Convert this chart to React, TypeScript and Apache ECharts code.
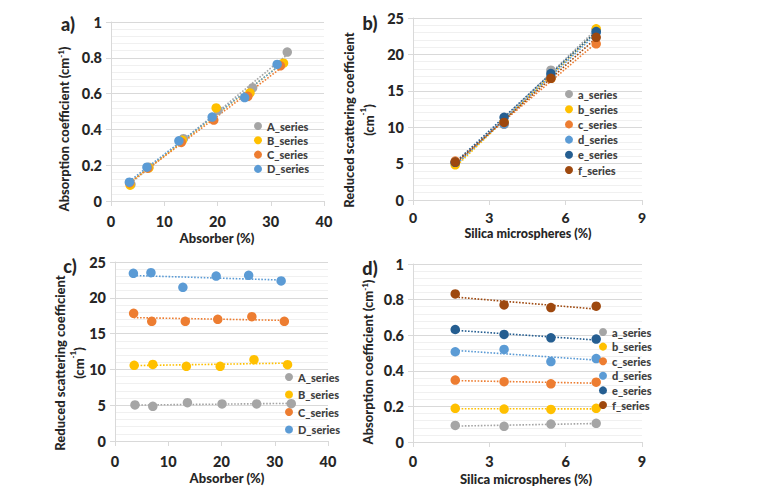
import React, { useEffect, useRef } from "react";
import * as echarts from "echarts";

// ---- data ----
const silicaX = [1.66, 3.58, 5.42, 7.2];

const absorberX_A = [3.75, 7.1, 13.6, 20.1, 26.6, 33.1];
const absorberX_B = [3.6, 7.1, 13.4, 19.75, 26.1, 32.4];
const absorberX_C = [3.5, 6.9, 13.2, 19.3, 25.7, 31.8];
const absorberX_D = [3.45, 6.75, 12.75, 19.0, 25.1, 31.2];

// absorption coefficient per absorber level (a..f), columns = silica levels (A..D)
const mua_a = [0.093, 0.088, 0.101, 0.105];
const mua_b = [0.189, 0.185, 0.183, 0.189];
const mua_c = [0.348, 0.339, 0.327, 0.336];
const mua_d = [0.507, 0.52, 0.452, 0.469];
const mua_e = [0.632, 0.604, 0.585, 0.578];
const mua_f = [0.832, 0.77, 0.755, 0.763];

// reduced scattering coefficient per absorber level (a..f), columns = silica levels (A..D)
const musp_a = [5.03, 10.57, 17.83, 23.42];
const musp_b = [4.84, 10.7, 16.71, 23.51];
const musp_c = [5.35, 10.43, 16.71, 21.46];
const musp_d = [5.17, 10.43, 16.99, 23.04];
const musp_e = [5.17, 11.36, 17.36, 23.14];
const musp_f = [5.21, 10.66, 16.71, 22.35];

const upperNames = ["A_series", "B_series", "C_series", "D_series"];
const lowerNames = ["a_series", "b_series", "c_series", "d_series", "e_series", "f_series"];

const absTicks = { min: 0, max: 40, interval: 10 };
const silTicks = { min: 0, max: 9, interval: 3 };
const muaTicks = { min: 0, max: 1, interval: 0.2 };
const muspTicks = { min: 0, max: 25, interval: 5 };

const upperColors = ["#A5A5A5", "#FFC000", "#ED7D31", "#5B9BD5"];
const lowerColors = ["#A5A5A5", "#FFC000", "#ED7D31", "#5B9BD5", "#255E91", "#9E480E"];

const FONT = "Lato, 'Open Sans', sans-serif";
const W = 900;

function fit(xs: number[], ys: number[]) {
  const n = xs.length;
  const mx = xs.reduce((s, v) => s + v, 0) / n;
  const my = ys.reduce((s, v) => s + v, 0) / n;
  let sxy = 0, sxx = 0;
  for (let i = 0; i < n; i++) {
    sxy += (xs[i] - mx) * (ys[i] - my);
    sxx += (xs[i] - mx) * (xs[i] - mx);
  }
  const b = sxy / sxx;
  const a = my - b * mx;
  const x0 = Math.min(...xs), x1 = Math.max(...xs);
  return [[x0, a + b * x0], [x1, a + b * x1]];
}

export default function App() {
  const ref = useRef<HTMLDivElement>(null);
  useEffect(() => {
    document.body.style.margin = "0";
    const chart = echarts.init(ref.current!, null, { renderer: "svg" });

    const absX = [absorberX_A, absorberX_B, absorberX_C, absorberX_D];
    const muaLv = [mua_a, mua_b, mua_c, mua_d, mua_e, mua_f];
    const muspLv = [musp_a, musp_b, musp_c, musp_d, musp_e, musp_f];

    const grids = [
      { left: 111, top: 22, width: 213, height: 179 },
      { left: 413, top: 18, width: 229, height: 182 },
      { left: 115, top: 262, width: 213, height: 179 },
      { left: 413, top: 264, width: 229, height: 178 },
    ].map((g) => ({ ...g, outerBoundsMode: "none", containLabel: false }));

    const labelStyle = { fontSize: 14.5, fontWeight: W, color: "#262626", fontFamily: FONT };
    const lineCol = "#d9d9d9";

    const mkX = (gi: number, t: any, margin: number, fs = 14.5) => ({
      type: "value",
      gridIndex: gi,
      ...t,
      axisLine: { show: true, onZero: false, lineStyle: { color: lineCol } },
      axisTick: { show: true, length: 5, lineStyle: { color: lineCol } },
      axisLabel: { ...labelStyle, fontSize: fs, margin },
      splitLine: { show: false },
    });
    const mkY = (gi: number, t: any) => ({
      type: "value",
      gridIndex: gi,
      ...t,
      axisLine: { show: true, onZero: false, lineStyle: { color: lineCol } },
      axisTick: { show: true, length: 5, lineStyle: { color: lineCol } },
      axisLabel: { ...labelStyle, margin: 9 },
      splitLine: { show: true, lineStyle: { color: lineCol, width: 1 } },
      minorTick: { show: false, splitNumber: 5 },
      minorSplitLine: { show: true, lineStyle: { color: "#f0f0f0", width: 1 } },
    });

    const series: any[] = [];
    const addPanel = (gi: number, names: string[], colors: string[], pts: number[][][]) => {
      pts.forEach((p, k) => {
        series.push({
          type: "line",
          name: "trend_" + gi + "_" + k,
          xAxisIndex: gi,
          yAxisIndex: gi,
          data: fit(p.map((d) => d[0]), p.map((d) => d[1])),
          showSymbol: false,
          symbol: "none",
          silent: true,
          z: 1,
          lineStyle: { color: colors[k], width: 1.6, type: [1.6, 1.6] },
        });
      });
      pts.forEach((p, k) => {
        series.push({
          type: "scatter",
          name: names[k],
          xAxisIndex: gi,
          yAxisIndex: gi,
          data: p,
          symbol: "circle",
          symbolSize: 9.5,
          z: 3,
          itemStyle: { color: colors[k], opacity: 1 },
        });
      });
    };

    // panel a: absorption vs absorber, series by silica level A..D
    addPanel(0, upperNames, upperColors,
      upperNames.map((_, j) => muaLv.map((row, i) => [absX[j][i], row[j]])));
    // panel b: scattering vs silica, series by absorber level a..f
    addPanel(1, lowerNames, lowerColors,
      lowerNames.map((_, i) => silicaX.map((x, j) => [x, muspLv[i][j]])));
    // panel c: scattering vs absorber
    addPanel(2, upperNames, upperColors,
      upperNames.map((_, j) => muspLv.map((row, i) => [absX[j][i], row[j]])));
    // panel d: absorption vs silica
    addPanel(3, lowerNames, lowerColors,
      lowerNames.map((_, i) => silicaX.map((x, j) => [x, muaLv[i][j]])));

    const legendText = { fontSize: 11, fontWeight: W, color: "#404040", fontFamily: FONT, lineHeight: 12 };
    const mkLegend = (data: string[], left: number, top: number, gap: number) => ({
      data,
      orient: "vertical",
      left,
      top,
      padding: 0,
      itemGap: gap,
      itemWidth: 8,
      itemHeight: 8,
      icon: "circle",
      selectedMode: false,
      textStyle: legendText,
    });

    const rich = {
      n: { fontSize: 13, fontWeight: W, fontFamily: FONT, color: "#262626" },
      sup: { fontSize: 8, fontWeight: W, fontFamily: FONT, color: "#262626", verticalAlign: "top" },
    };
    const titleText = (x: number, y: number, text: string, rot = 0, lh = 15) => ({
      type: "text",
      x,
      y,
      rotation: rot,
      style: {
        text,
        rich,
        align: "center",
        verticalAlign: "middle",
        lineHeight: lh,
        fontSize: 13,
        fontWeight: W,
        fontFamily: FONT,
        fill: "#262626",
      },
    });
    const xTitle = (x: number, y: number, text: string, fs = 13) => ({
      type: "text",
      x,
      y,
      style: {
        text,
        align: "center",
        verticalAlign: "middle",
        fontSize: fs,
        fontWeight: W,
        fontFamily: FONT,
        fill: "#262626",
      },
    });
    const panelLabel = (x: number, y: number, text: string) => ({
      type: "text",
      x,
      y,
      style: {
        text,
        align: "center",
        verticalAlign: "middle",
        fontSize: 18,
        fontWeight: W,
        fontFamily: FONT,
        fill: "#262626",
      },
    });
    const R = Math.PI / 2;

    chart.setOption({
      animation: false,
      backgroundColor: "#fff",
      grid: grids,
      xAxis: [mkX(0, absTicks, 13), mkX(1, silTicks, 10, 14), mkX(2, absTicks, 13), mkX(3, silTicks, 12)],
      yAxis: [mkY(0, muaTicks), mkY(1, muspTicks), mkY(2, muspTicks), mkY(3, muaTicks)],
      legend: [
        mkLegend(upperNames, 254, 120, 2.3),
        mkLegend(lowerNames, 565, 88, 3.2),
        mkLegend(upperNames, 285, 371, 5.5),
        mkLegend(lowerNames, 599, 326, 2.6),
      ],
      series,
      graphic: [
        panelLabel(68, 24, "a)"),
        panelLabel(370, 23, "b)"),
        panelLabel(70, 266, "c)"),
        panelLabel(370, 268, "d)"),
        titleText(64, 129, "{n|Absorption coefficient (cm}{sup|-1}{n|)}", R),
        titleText(359, 120, "{n|Reduced scattering coefficient}\n{n|(cm}{sup|-1}{n|)}", R, 20),
        titleText(69, 363, "{n|Reduced scattering coefficient}\n{n|(cm}{sup|-1}{n|)}", R, 19),
        titleText(368, 362, "{n|Absorption coefficient (cm}{sup|-1}{n|)}", R),
        xTitle(217, 238, "Absorber (%)"),
        xTitle(528, 233.5, "Silica microspheres (%)", 12.5),
        xTitle(227, 478, "Absorber (%)"),
        xTitle(526, 479, "Silica microspheres (%)"),
      ],
    });
    return () => chart.dispose();
  }, []);
  return <div ref={ref} style={{ width: 758, height: 491 }} />;
}
